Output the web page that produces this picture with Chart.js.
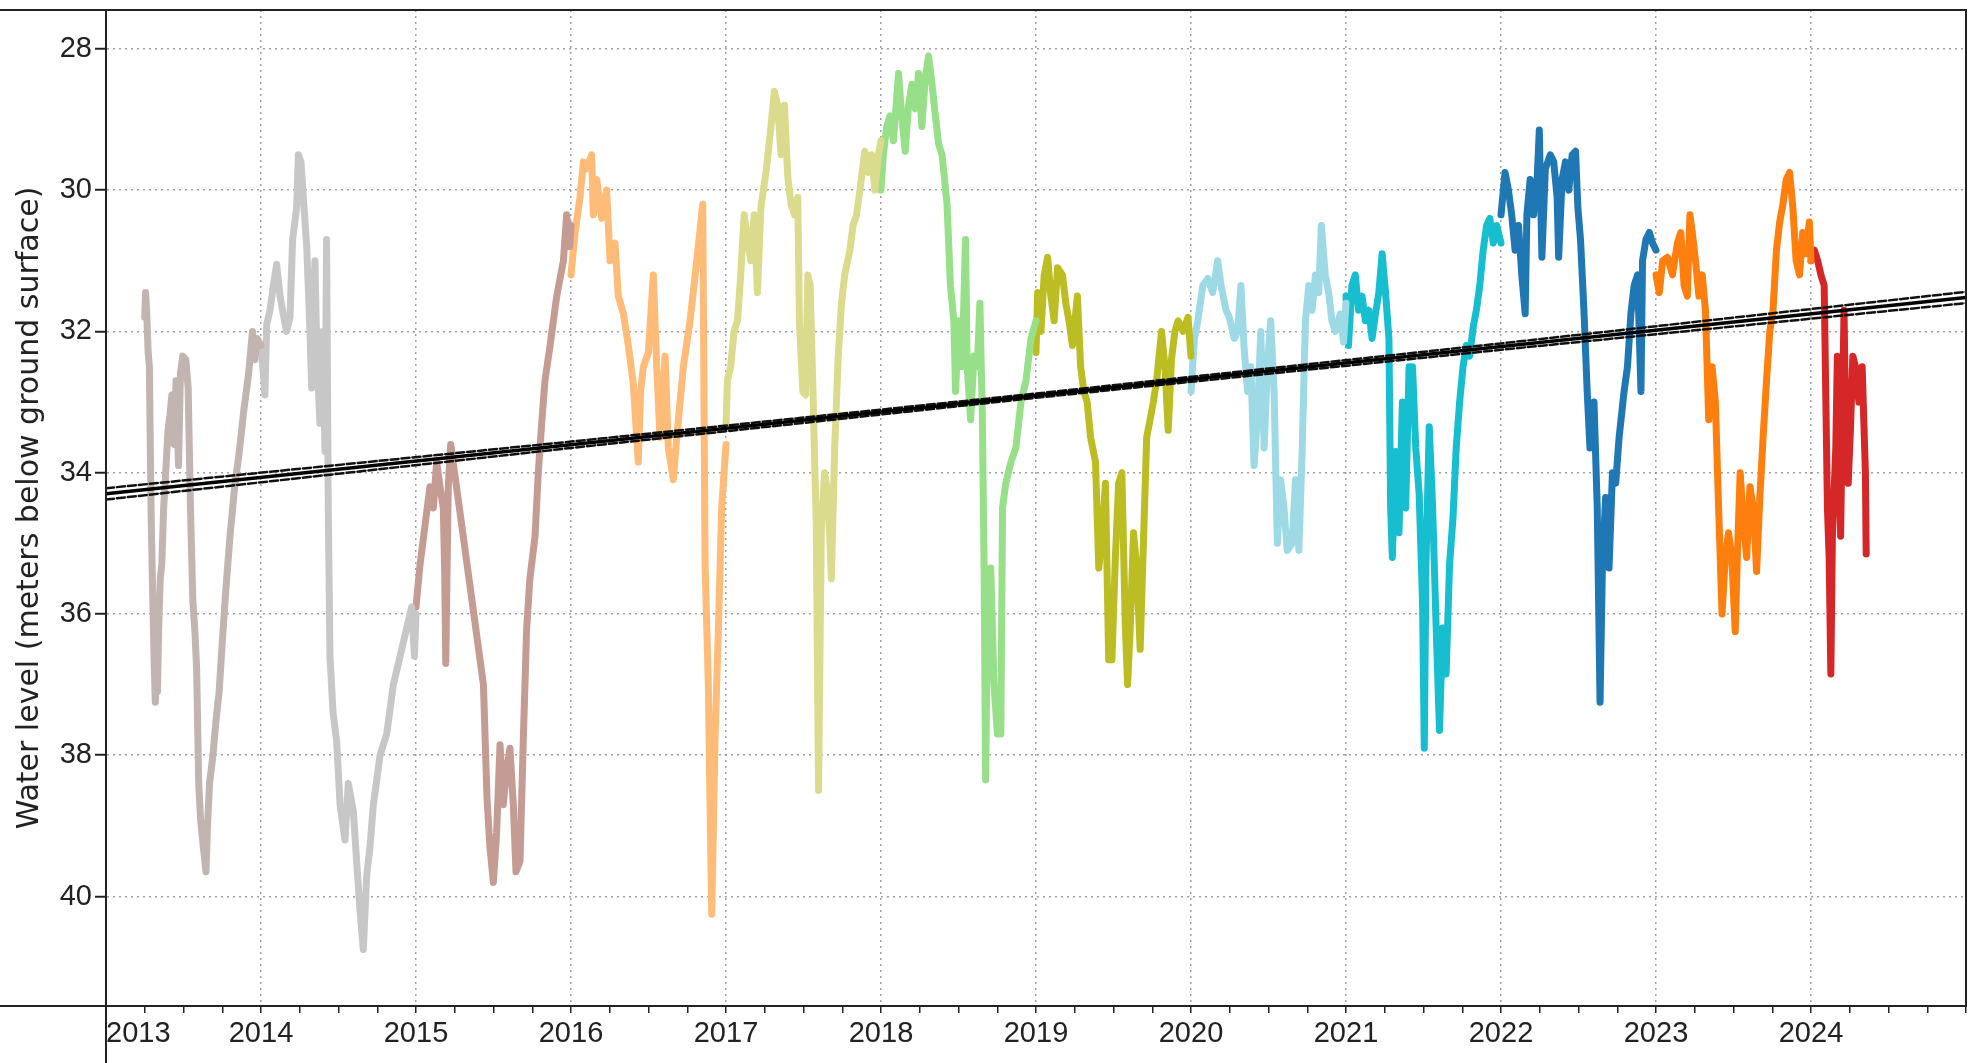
<!DOCTYPE html>
<html lang="en">
<head>
  <meta charset="UTF-8">
  <title>Water level</title>
  <style>
    html, body { margin: 0; padding: 0; background: #fff; }
    .chart-wrapper { position: relative; width: 1977px; height: 1063px; }
  </style>
</head>
<body>
  <div class="chart-wrapper">
    <canvas id="waterChart"></canvas>
  </div>

  <script src="https://cdn.jsdelivr.net/npm/chart.js"></script>
  <script>
    // readings per year: [fraction of year, metres below ground surface]
    const yr2013 = [[0.250,31.8],[0.255,31.45],[0.262,31.7],[0.272,32.3],[0.280,32.5],[0.285,33.5],[0.292,34.7],[0.300,35.6],[0.310,36.6],[0.318,37.25],[0.325,36.9],[0.332,37.1],[0.340,36.2],[0.350,35.5],[0.360,35.3],[0.372,34.5],[0.385,34.0],[0.400,33.4],[0.412,33.2],[0.425,32.9],[0.440,33.6],[0.452,32.7],[0.468,33.9],[0.480,32.6],[0.495,32.35],[0.515,32.4],[0.530,32.8],[0.545,34.5],[0.560,35.8],[0.575,36.3],[0.585,36.8],[0.598,38.4],[0.610,38.9],[0.628,39.3],[0.645,39.65],[0.655,39.0],[0.668,38.4],[0.690,38.0],[0.710,37.5],[0.730,37.1],[0.750,36.4],[0.775,35.6],[0.800,34.9],[0.830,34.2],[0.860,33.7],[0.890,33.1],[0.920,32.6],[0.945,32.0],[0.960,32.4],[0.975,32.1],[1.000,32.2]];
    const yr2014 = [[0.000,32.2],[0.015,32.6],[0.025,32.9],[0.037,31.9],[0.058,31.7],[0.080,31.35],[0.101,31.05],[0.123,31.5],[0.144,31.76],[0.165,32.0],[0.187,31.8],[0.204,30.7],[0.230,30.25],[0.241,29.5],[0.258,29.6],[0.273,30.1],[0.295,30.8],[0.316,32.0],[0.327,32.8],[0.348,31.0],[0.359,32.2],[0.380,33.3],[0.398,32.0],[0.413,33.7],[0.423,30.7],[0.434,34.5],[0.445,36.6],[0.465,37.4],[0.488,37.8],[0.510,38.7],[0.542,39.2],[0.563,38.4],[0.596,38.8],[0.617,39.5],[0.639,40.2],[0.660,40.75],[0.682,39.7],[0.703,39.3],[0.725,38.7],[0.768,38.0],[0.811,37.7],[0.854,37.0],[0.897,36.6],[0.940,36.2],[0.972,35.9],[0.990,36.6],[1.000,36.0]];
    const yr2015 = [[0.000,35.9],[0.026,35.3],[0.058,34.75],[0.090,34.2],[0.112,34.5],[0.133,33.85],[0.155,34.2],[0.176,34.5],[0.185,35.4],[0.192,36.7],[0.208,34.2],[0.224,33.6],[0.435,37.0],[0.458,38.6],[0.477,39.3],[0.499,39.8],[0.520,39.1],[0.542,37.85],[0.563,38.7],[0.585,38.2],[0.606,37.9],[0.628,38.7],[0.645,39.65],[0.671,39.5],[0.692,37.8],[0.714,36.2],[0.735,35.5],[0.768,34.9],[0.789,34.0],[0.811,33.3],[0.832,32.7],[0.865,32.2],[0.908,31.5],[0.951,31.0],[0.972,30.35],[0.992,30.8],[1.000,30.5]];
    const yr2016 = [[0.000,31.2],[0.026,30.6],[0.058,30.1],[0.080,29.6],[0.101,29.7],[0.133,29.5],[0.144,30.35],[0.166,29.85],[0.198,30.4],[0.230,30.0],[0.252,31.0],[0.284,30.75],[0.305,31.5],[0.338,31.75],[0.370,32.2],[0.402,32.75],[0.434,33.85],[0.449,32.85],[0.467,32.5],[0.499,32.3],[0.531,31.2],[0.553,32.5],[0.574,33.5],[0.607,32.35],[0.628,33.65],[0.660,34.1],[0.682,33.5],[0.725,32.5],[0.768,31.85],[0.811,31.0],[0.850,30.2],[0.865,35.3],[0.886,37.0],[0.897,38.7],[0.908,40.25],[0.929,37.8],[0.951,36.2],[0.972,34.5],[1.000,33.6]];
    const yr2017 = [[0.000,33.35],[0.009,32.7],[0.030,32.5],[0.052,32.0],[0.074,31.85],[0.095,31.2],[0.117,30.35],[0.139,30.7],[0.160,31.0],[0.182,30.35],[0.203,31.45],[0.225,30.25],[0.258,29.75],[0.290,29.1],[0.312,28.6],[0.333,28.8],[0.355,29.5],[0.377,28.8],[0.398,29.8],[0.420,30.2],[0.442,30.35],[0.463,30.1],[0.474,31.9],[0.496,32.85],[0.513,32.9],[0.528,31.2],[0.543,31.35],[0.561,32.85],[0.582,34.7],[0.597,38.5],[0.615,34.8],[0.636,34.0],[0.658,34.3],[0.680,35.5],[0.701,33.65],[0.723,32.4],[0.745,31.6],[0.766,31.2],[0.799,30.85],[0.820,30.5],[0.842,30.35],[0.864,30.0],[0.896,29.45],[0.918,29.75],[0.939,29.5],[0.961,30.0],[0.983,29.5],[1.000,29.3]];
    const yr2018 = [[0.000,30.0],[0.015,29.5],[0.037,29.1],[0.058,28.95],[0.080,29.3],[0.113,28.35],[0.134,28.95],[0.156,29.45],[0.178,28.8],[0.199,28.5],[0.221,28.85],[0.242,28.35],[0.264,29.1],[0.286,28.4],[0.307,28.1],[0.329,28.5],[0.351,28.95],[0.372,29.35],[0.394,29.5],[0.426,30.2],[0.448,31.35],[0.470,31.85],[0.481,32.85],[0.502,31.85],[0.524,32.5],[0.545,30.7],[0.556,32.5],[0.578,33.25],[0.600,32.35],[0.621,32.5],[0.638,31.6],[0.654,33.2],[0.665,35.35],[0.675,38.35],[0.686,36.2],[0.708,35.35],[0.729,37.0],[0.751,37.7],[0.773,37.7],[0.784,34.5],[0.805,34.15],[0.838,33.85],[0.870,33.65],[0.903,33.0],[0.935,32.7],[0.968,32.1],[1.000,31.85]];
    const yr2019 = [[0.000,32.3],[0.011,31.45],[0.032,32.0],[0.053,31.2],[0.075,30.95],[0.096,31.5],[0.117,31.85],[0.139,31.1],[0.171,31.2],[0.192,31.6],[0.213,31.85],[0.235,32.2],[0.267,31.5],[0.288,32.5],[0.309,32.85],[0.330,33.0],[0.352,33.5],[0.384,33.85],[0.405,35.35],[0.426,34.9],[0.448,34.15],[0.469,36.65],[0.490,36.65],[0.512,35.2],[0.533,34.15],[0.554,34.0],[0.576,36.15],[0.591,37.0],[0.608,36.2],[0.629,34.85],[0.650,35.35],[0.672,36.5],[0.693,35.0],[0.714,33.5],[0.736,33.25],[0.757,33.0],[0.778,32.7],[0.810,32.0],[0.832,32.5],[0.853,33.4],[0.874,32.4],[0.896,32.0],[0.917,31.85],[0.949,32.0],[0.981,31.8],[1.000,32.35]];
    const yr2020 = [[0.000,32.85],[0.022,32.1],[0.044,31.85],[0.076,31.35],[0.108,31.25],[0.140,31.45],[0.172,31.0],[0.194,31.35],[0.226,31.7],[0.247,31.8],[0.279,32.1],[0.301,32.0],[0.322,31.35],[0.343,32.25],[0.365,32.85],[0.386,32.5],[0.407,33.9],[0.429,33.2],[0.450,32.0],[0.472,33.65],[0.493,32.5],[0.514,31.85],[0.536,32.85],[0.557,35.0],[0.578,34.1],[0.600,34.5],[0.621,35.1],[0.653,35.0],[0.674,34.1],[0.696,35.1],[0.717,33.7],[0.738,31.85],[0.760,31.35],[0.781,31.7],[0.803,31.2],[0.824,31.45],[0.841,30.5],[0.866,31.2],[0.888,31.45],[0.909,31.85],[0.931,32.0],[0.963,31.75],[0.984,32.15],[1.000,31.6]];
    const yr2021 = [[0.000,31.5],[0.016,32.2],[0.038,31.35],[0.060,31.2],[0.081,31.7],[0.103,31.5],[0.125,31.85],[0.147,31.7],[0.168,32.1],[0.190,31.75],[0.212,31.45],[0.233,30.9],[0.255,31.45],[0.277,32.1],[0.288,34.5],[0.299,35.2],[0.320,33.7],[0.342,34.85],[0.364,33.0],[0.385,34.5],[0.407,32.5],[0.429,32.5],[0.450,33.65],[0.472,34.3],[0.494,35.85],[0.505,37.9],[0.516,35.3],[0.537,33.35],[0.559,34.5],[0.581,36.15],[0.603,37.65],[0.624,36.2],[0.646,36.85],[0.668,35.3],[0.690,34.65],[0.711,33.65],[0.733,33.0],[0.755,32.5],[0.776,32.2],[0.798,32.35],[0.820,31.95],[0.841,31.7],[0.863,31.35],[0.885,30.85],[0.907,30.5],[0.928,30.4],[0.950,30.75],[0.972,30.5],[1.000,30.75]];
    const yr2022 = [[0.000,30.35],[0.026,29.75],[0.048,30.0],[0.069,30.35],[0.091,30.85],[0.113,30.5],[0.134,31.2],[0.156,31.75],[0.167,30.35],[0.188,29.85],[0.210,30.35],[0.232,29.9],[0.247,29.15],[0.264,30.95],[0.286,29.7],[0.318,29.5],[0.340,29.6],[0.362,30.1],[0.372,30.95],[0.394,29.85],[0.416,29.6],[0.437,30.0],[0.459,29.5],[0.481,29.45],[0.496,30.25],[0.513,30.7],[0.535,31.7],[0.556,32.85],[0.574,33.65],[0.600,33.0],[0.621,34.5],[0.639,37.25],[0.654,35.35],[0.675,34.35],[0.697,35.35],[0.719,34.0],[0.740,34.15],[0.762,33.5],[0.794,32.85],[0.816,32.5],[0.838,31.75],[0.859,31.35],[0.881,31.2],[0.903,32.85],[0.913,31.0],[0.935,30.7],[0.957,30.6],[0.978,30.75],[1.000,30.85]];
    const yr2023 = [[0.000,31.2],[0.021,31.45],[0.043,31.0],[0.074,30.95],[0.106,31.2],[0.138,30.75],[0.160,30.6],[0.181,31.35],[0.202,31.5],[0.219,30.35],[0.234,30.6],[0.255,31.0],[0.277,31.5],[0.298,31.2],[0.319,31.7],[0.340,33.25],[0.362,32.5],[0.383,33.0],[0.404,34.5],[0.426,36.0],[0.447,35.2],[0.468,34.85],[0.489,35.2],[0.511,36.25],[0.526,35.1],[0.543,34.0],[0.564,34.7],[0.585,35.2],[0.606,34.2],[0.628,34.5],[0.649,35.4],[0.670,34.35],[0.691,33.5],[0.713,32.7],[0.734,32.0],[0.755,31.7],[0.777,30.85],[0.798,30.45],[0.819,30.2],[0.840,29.85],[0.862,29.75],[0.883,30.25],[0.904,31.0],[0.926,31.2],[0.947,30.6],[0.968,30.9],[0.989,30.45],[1.000,31.0]];
    const yr2024 = [[0.000,31.0],[0.021,30.85],[0.043,31.0],[0.064,31.2],[0.085,31.35],[0.096,33.0],[0.106,34.5],[0.117,35.2],[0.128,36.85],[0.138,34.9],[0.160,33.65],[0.170,32.35],[0.191,34.9],[0.202,33.25],[0.213,31.7],[0.223,33.2],[0.240,34.15],[0.255,33.35],[0.270,32.35],[0.287,32.5],[0.309,33.0],[0.330,32.5],[0.351,34.0],[0.356,35.15]];

    const years = [2013, 2014, 2015, 2016, 2017, 2018, 2019, 2020, 2021, 2022, 2023, 2024];
    const series = [yr2013, yr2014, yr2015, yr2016, yr2017, yr2018, yr2019, yr2020, yr2021, yr2022, yr2023, yr2024];
    const yearColors = ['#c2b4b0', '#c7c7c7', '#c49c94', '#ffbb78', '#dbdb8d', '#98df8a',
                        '#bcbd22', '#9edae5', '#17becf', '#1f77b4', '#ff7f0e', '#d62728'];

    // linear trend and its confidence band
    const trendYears = [2013, 2025];
    const trendFit = [34.3, 31.52];
    const bandYears = [2013, 2016, 2019, 2022, 2025];
    const bandUpper = [34.22, 33.56, 32.88, 32.17, 31.44];
    const bandLower = [34.38, 33.65, 32.94, 32.26, 31.60];

    const yTicks = [28, 30, 32, 34, 36, 38, 40];
    const xTickYears = [2013, 2014, 2015, 2016, 2017, 2018, 2019, 2020, 2021, 2022, 2023, 2024, 2025];

    const tickFont = { family: '"Liberation Sans", Arial, sans-serif', size: 29 };
    const gridGray = 'rgba(120,120,120,0.7)';

    const datasets = [];
    const pts = (xs, ys) => xs.map((x, i) => ({ x: x, y: ys[i] }));

    datasets.push({ data: pts(trendYears, trendFit), borderColor: '#000', borderWidth: 3.5, order: 0 });
    datasets.push({ data: pts(bandYears, bandUpper), borderColor: '#111', borderWidth: 2.5, borderDash: [8, 3], order: 0 });
    datasets.push({ data: pts(bandYears, bandLower), borderColor: '#111', borderWidth: 2.5, borderDash: [8, 3], order: 0 });

    series.forEach((s, i) => {
      datasets.push({
        data: s.map(p => ({ x: years[i] + p[0], y: p[1] })),
        borderColor: yearColors[i],
        borderWidth: 7,
        order: 1
      });
    });

    // plot frame like the original (box + lines running off to the edges)
    const framePlugin = {
      id: 'frame',
      afterDraw(chart) {
        const { ctx, chartArea: a, height } = chart;
        ctx.save();
        ctx.strokeStyle = '#222';
        ctx.lineWidth = 2;
        ctx.beginPath();
        ctx.moveTo(0, a.top); ctx.lineTo(a.right, a.top);
        ctx.lineTo(a.right, a.bottom); ctx.lineTo(0, a.bottom);
        ctx.moveTo(a.left, a.top); ctx.lineTo(a.left, height);
        ctx.stroke();
        ctx.restore();
      }
    };

    const config = {
      type: 'line',
      data: { datasets: datasets },
      options: {
        responsive: true,
        maintainAspectRatio: false,
        animation: false,
        layout: { padding: { top: 10, right: 11, left: 0, bottom: 0 } },
        elements: {
          point: { radius: 0 },
          line: { tension: 0, borderJoinStyle: 'round', borderCapStyle: 'round' }
        },
        plugins: { legend: { display: false }, tooltip: { enabled: false } },
        scales: {
          x: {
            type: 'linear',
            min: 2013,
            max: 2025,
            afterBuildTicks: scale => {
              const t = [];
              xTickYears.forEach(y => {
                t.push({ value: y });
                if (y < 2025) [0.25, 0.5, 0.75].forEach(q => t.push({ value: y + q }));
              });
              scale.ticks = t;
            },
            afterFit: scale => {
              scale.height = 57;
              scale.paddingLeft = 0;
              scale.paddingRight = 0;
            },
            ticks: {
              autoSkip: false,
              maxRotation: 0,
              align: 'inner',
              padding: 4,
              color: '#222',
              font: tickFont,
              callback: v => (Number.isInteger(v) && v < 2025) ? String(v) : ''
            },
            grid: {
              color: c => Number.isInteger(c.tick && c.tick.value) ? gridGray : 'rgba(0,0,0,0)',
              lineWidth: 1.5,
              tickColor: '#222',
              tickLength: 7,
              tickWidth: 1.5
            },
            border: { display: true, color: '#222', width: 2, dash: [2, 4] }
          },
          y: {
            type: 'linear',
            reverse: true,
            min: 27.45,
            max: 41.55,
            afterBuildTicks: scale => { scale.ticks = yTicks.map(v => ({ value: v })); },
            afterFit: scale => {
              scale.width = 106;
              scale.paddingTop = 0;
              scale.paddingBottom = 0;
            },
            ticks: { padding: 3, color: '#222', font: tickFont },
            grid: {
              color: gridGray,
              lineWidth: 1.5,
              tickColor: '#222',
              tickLength: 11,
              tickWidth: 2
            },
            border: { display: true, color: '#222', width: 2, dash: [2, 4] },
            title: {
              display: true,
              text: 'Water level (meters below ground surface)',
              color: '#222',
              font: { family: '"DejaVu Sans", Verdana, sans-serif', size: 30 },
              padding: { top: 12, bottom: 0 }
            }
          }
        }
      },
      plugins: [framePlugin]
    };

    window.addEventListener('load', () => {
      const ctx = document.getElementById('waterChart').getContext('2d');
      new Chart(ctx, config);
    });
  </script>
</body>
</html>
